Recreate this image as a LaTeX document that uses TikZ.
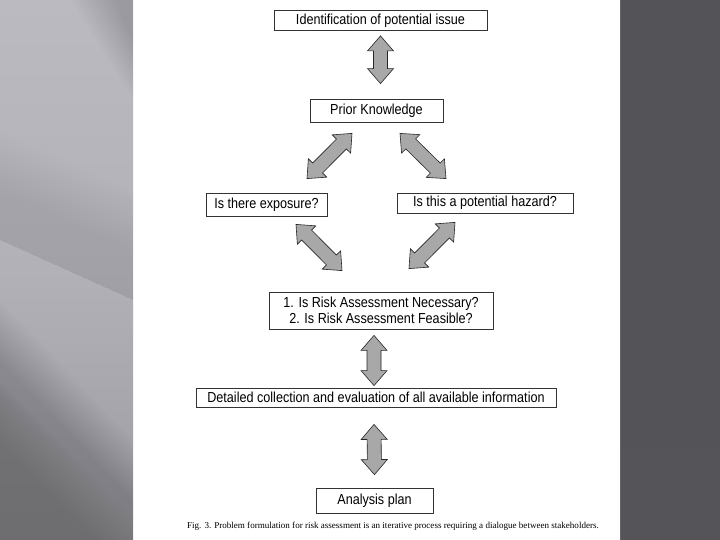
\documentclass[tikz,border=0pt]{standalone}
\usepackage{fontspec}
\setmainfont[FakeStretch=0.87]{Liberation Sans}
\newfontfamily\capfont{Liberation Serif}
\usetikzlibrary{calc}
\definecolor{PanelLight}{RGB}{187,186,192}
\definecolor{PanelMid}{RGB}{178,177,183}
\definecolor{PanelDark}{RGB}{156,155,161}
\definecolor{SideGray}{RGB}{92,91,96}
\definecolor{ArrowGray}{RGB}{168,168,168}
% two-headed block arrow between two named points
\newcommand{\dualarrow}[2]{%
\coordinate (h1) at ($(#1)!15pt!(#2)$);\coordinate (h2) at ($(#2)!15pt!(#1)$);
\filldraw[blk] (#1)--($(h1)!13pt!90:(#1)$)--($(h1)!7pt!90:(#1)$)--($(h2)!7pt!-90:(#2)$)--($(h2)!13pt!-90:(#2)$)--(#2)
 --($(h2)!13pt!90:(#2)$)--($(h2)!7pt!90:(#2)$)--($(h1)!7pt!-90:(#1)$)--($(h1)!13pt!-90:(#1)$)--cycle;}
\begin{document}
\begin{tikzpicture}[x=1pt,y=-1pt,
  box/.style={draw=black!80,line width=.8pt,fill=white,inner sep=0pt,align=center,font=\fontsize{14.5}{16}\selectfont},
  blk/.style={fill=ArrowGray,draw=black!85,line width=.6pt,line join=miter}]
\useasboundingbox (0,0) rectangle (720,540);
% slide background
\fill[white] (0,0) rectangle (720,540);
\shade[top color=PanelLight,bottom color=PanelDark,middle color=PanelMid] (0,0) rectangle (133,540);
\foreach \i in {0,...,15}{
  \fill[black,opacity=.005] (0,130+4*\i)--(133,190+4*\i)--(133,300)--(0,240)--cycle;
  \fill[white,opacity=.006] (0,250+3*\i)--(133,345+3*\i)--(133,420)--(0,320)--cycle;
  \fill[black,opacity=.009] (0,300+4*\i)--(133,440+4*\i)--(133,540)--(0,540)--cycle;
  \fill[black,opacity=.006] (0,380+4*\i)--(133,520+4*\i)--(133,540)--(0,540)--cycle;
  \fill[black,opacity=.006] (70+3*\i,0)--(133,0)--(133,100-4*\i)--cycle;}
\shade[top color=SideGray!105,bottom color=SideGray!92!black] (620,0) rectangle (720,540);
\draw[black!60,line width=.8pt] (620.4,0)--(620.4,540);
% boxes
\node[box,minimum width=213pt,minimum height=20pt] (issue) at (380.5,20.5) {Identification of potential issue};
\node[box,minimum width=133pt,minimum height=23pt] (prior) at (376.5,110.5) {Prior Knowledge};
\node[box,minimum width=121pt,minimum height=23pt] (expo) at (266.5,204.5) {Is there exposure?};
\node[box,minimum width=176pt,minimum height=20pt] (hazard) at (485,203) {Is this a potential hazard?};
\node[box,minimum width=224pt,minimum height=37pt] (needed) at (381,310.5) {1. Is Risk Assessment Necessary?\\2. Is Risk Assessment Feasible?};
\node[box,minimum width=360pt,minimum height=19pt] (collect) at (376,397.5) {Detailed collection and evaluation of all available information};
\node[box,minimum width=117pt,minimum height=25pt] (plan) at (374.5,500.5) {Analysis plan};
\node[font=\capfont\fontsize{9.05}{10}\selectfont] (cap) at (393,526) {Fig. 3. Problem formulation for risk assessment is an iterative process requiring a dialogue between stakeholders.};
% arrow ends
\coordinate (a1) at ($(issue.south)+(0,5)$);\coordinate (a2) at ($(prior.north)+(4,-15)$);
\coordinate (b1) at ($(prior.south)+(-24.5,11)$);\coordinate (b2) at ($(expo.north)+(40.5,-14)$);
\coordinate (c1) at ($(prior.south)+(23.5,11)$);\coordinate (c2) at ($(hazard.north)+(-39,-14)$);
\coordinate (d1) at ($(expo.south)+(29.5,8)$);\coordinate (d2) at ($(needed.north)+(-39,-21)$);
\coordinate (e1) at ($(hazard.south)+(-30,9)$);\coordinate (e2) at ($(needed.north)+(28,-23)$);
\coordinate (f1) at ($(needed.south)+(-7,6)$);\coordinate (f2) at ($(collect.north)+(-2,-2)$);
\coordinate (g1) at ($(collect.south)+(-2,17)$);\coordinate (g2) at ($(plan.north)+(0,-13)$);
\foreach \p in {a,b,c,d,e,f,g}{\dualarrow{\p1}{\p2}}
\end{tikzpicture}
\end{document}
